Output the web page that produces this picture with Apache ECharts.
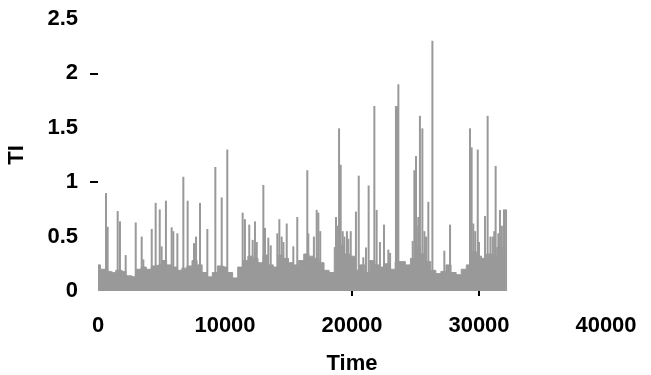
<!DOCTYPE html>
<html>
<head>
<meta charset="utf-8">
<script src="https://cdn.jsdelivr.net/npm/echarts@6/dist/echarts.min.js"></script>
<style>html,body{margin:0;padding:0;background:#fff;}#c{width:651px;height:375px;}</style>
</head>
<body>
<div id="c"></div>
<script>
// Dense baseline band (upper envelope), sampled every bandStep time units from 0
const bandStep = 400;
const bandHigh = [0.24,0.20,0.18,0.17,0.19,0.18,0.14,0.13,0.20,0.22,
  0.20,0.23,0.24,0.28,0.24,0.22,0.19,0.21,0.23,0.28,
  0.24,0.17,0.13,0.17,0.23,0.22,0.17,0.12,0.22,0.28,
  0.32,0.30,0.26,0.33,0.24,0.22,0.33,0.30,0.26,0.24,
  0.28,0.34,0.32,0.30,0.26,0.19,0.17,0.40,0.42,0.34,
  0.32,0.19,0.24,0.17,0.28,0.24,0.22,0.25,0.20,0.27,
  0.27,0.24,0.30,0.40,0.34,0.27,0.19,0.16,0.18,0.24,
  0.17,0.15,0.20,0.24,0.36,0.32,0.30,0.34,0.32,0.40,0.40];
// Individual spikes
const spikeTimes = [630,760,1550,1730,2180,2970,3440,3570,4230,4540,4860,
  5010,5350,5800,5930,6250,6720,7060,7560,7720,8030,
  8610,9240,9740,10180,11390,11570,11910,12180,12360,12500,13020,
  13150,13410,13600,14120,14280,14460,14600,14860,15380,15690,16480,16560,
  17000,17220,17350,17500,18740,18900,18980,19110,19270,19400,19600,19710,19900,20310,20530,
  20890,21100,21310,21760,21940,22200,22520,22860,23000,23460,23540,23650,24780,
  24910,25040,25100,25220,25350,25540,25700,25830,26010,26330,27270,27720,
  29290,29420,29550,29700,29900,30000,30470,30680,30900,31080,31200,31310,31520,31650,31800,
  31970,32130];
const spikeValues = [0.90,0.59,0.735,0.64,0.33,0.63,0.50,0.29,0.57,0.81,0.75,
  0.41,0.83,0.585,0.55,0.53,1.05,0.83,0.44,0.50,0.81,
  0.57,1.14,0.86,1.30,0.72,0.66,0.61,0.47,0.64,0.45,0.975,
  0.58,0.49,0.42,0.53,0.66,0.50,0.45,0.62,0.41,0.68,1.11,0.53,
  0.50,0.745,0.72,0.55,0.68,0.60,1.495,1.16,0.55,0.50,0.55,0.48,0.55,0.73,1.06,
  0.31,0.40,0.97,1.70,0.745,0.45,0.61,0.38,0.35,1.70,1.70,1.90,0.46,
  1.11,1.24,0.60,0.68,1.61,1.495,0.55,0.50,0.82,2.30,0.37,0.61,
  1.495,1.32,0.62,0.55,1.30,0.45,0.69,1.61,0.50,0.50,0.55,1.15,0.53,0.745,0.60,
  0.75,0.75];
const xTicks = [0,10000,20000,30000,40000];
const yTicks = [0,0.5,1,1.5,2,2.5];

const gray = '#999999';
const font = {fontFamily:'Liberation Sans', fontWeight:'bold', fontSize:22, color:'#000'};

const chart = echarts.init(document.getElementById('c'), null, {renderer:'canvas'});
chart.setOption({
  animation:false,
  backgroundColor:'#fff',
  grid:{left:98, right:45, top:19, bottom:84, outerBoundsMode:'none', containLabel:false},
  xAxis:{
    type:'value', min:xTicks[0], max:xTicks[xTicks.length-1], interval:10000,
    axisLine:{show:false},
    axisTick:{show:true, customValues:[20000,30000], length:5, lineStyle:{color:'#000', width:2}},
    splitLine:{show:false},
    axisLabel:Object.assign({margin:24, formatter:v=>String(v)}, font),
    name:'Time', nameLocation:'middle', nameGap:62, nameTextStyle:font
  },
  yAxis:{
    type:'value', min:yTicks[0], max:yTicks[yTicks.length-1], interval:0.5,
    axisLine:{show:false},
    axisTick:{show:true, customValues:[1,2], length:8, lineStyle:{color:'#000', width:2}},
    splitLine:{show:false},
    axisLabel:Object.assign({margin:20, formatter:v=>String(v)}, font),
    name:'TI', nameLocation:'middle', nameGap:70, nameRotate:90, nameTextStyle:font
  },
  series:[
    {type:'line', step:'middle', symbol:'none',
     data:bandHigh.map((v,i)=>[i*bandStep, v]),
     lineStyle:{color:gray, width:1}, areaStyle:{color:gray, opacity:1}},
    {type:'bar', barWidth:2,
     data:spikeTimes.map((t,i)=>[t, spikeValues[i]]),
     itemStyle:{color:gray}}
  ]
});
</script>
</body>
</html>
